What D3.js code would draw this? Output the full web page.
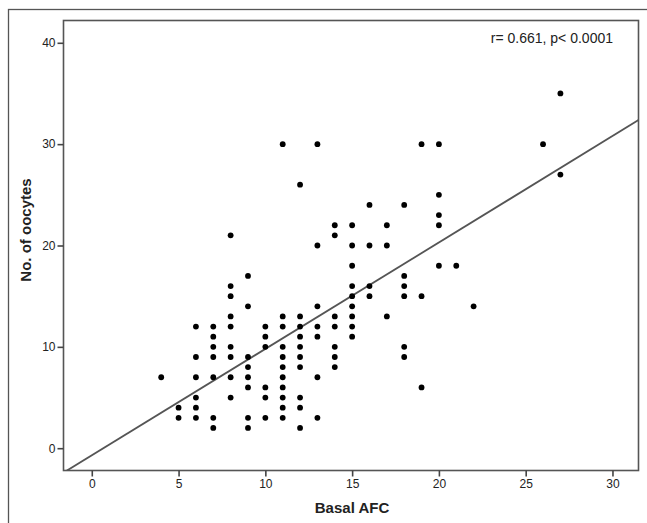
<!DOCTYPE html>
<html>
<head>
<meta charset="utf-8">
<script src="https://cdn.jsdelivr.net/npm/d3@7"></script>
<style>
  html, body { margin: 0; padding: 0; background: #fff; }
  svg { display: block; }
  text { font-family: Arial, "Liberation Sans", sans-serif; fill: #222; }
</style>
</head>
<body>
<svg id="chart" width="647" height="523"></svg>
<script>
// Data: Basal AFC (x) vs No. of oocytes (y)
const afc = [
  4,
  5,5,
  6,6,6,6,6,6,
  7,7,7,7,7,7,7,
  8,8,8,8,8,8,8,8,8,
  9,9,9,9,9,9,9,9,
  10,10,10,10,10,10,
  11,11,11,11,11,11,11,11,11,11,11,
  12,12,12,12,12,12,12,12,12,12,
  13,13,13,13,13,13,13,
  14,14,14,14,14,14,14,
  15,15,15,15,15,15,15,15,15,
  16,16,16,16,
  17,17,17,
  18,18,18,18,18,18,
  19,19,19,
  20,20,20,20,20,
  21,
  22,
  26,
  27,27
];
const oocytes = [
  7,
  4,3,
  12,9,7,5,4,3,
  12,11,10,9,7,3,2,
  21,16,15,13,12,10,9,7,5,
  17,14,9,8,7,6,3,2,
  12,11,10,6,5,3,
  30,13,12,10,9,8,7,6,5,4,3,
  26,13,12,11,10,9,8,5,4,2,
  30,20,14,12,11,7,3,
  22,21,13,12,10,9,8,
  22,20,18,16,15,14,13,12,11,
  24,20,16,15,
  22,20,13,
  24,17,16,15,10,9,
  30,15,6,
  30,25,23,22,18,
  18,
  14,
  30,
  35,27
];
const xTicks = [0, 5, 10, 15, 20, 25, 30];
const yTicks = [0, 10, 20, 30, 40];
const fitSlope = 1.05;
const fitIntercept = -0.7;
const annotation = "r= 0.661, p< 0.0001";
const xTitle = "Basal AFC";
const yTitle = "No. of oocytes";

const svg = d3.select("#chart");
const pLeft = 63.5, pRight = 638.5, pTop = 20.5, pBottom = 470.5;

const x = d3.scaleLinear().domain([-1.63, 31.5]).range([pLeft, pRight]);
const y = d3.scaleLinear().domain([-2.2, 42.2]).range([pBottom, pTop]);

// outer border
svg.append("rect")
  .attr("x", 8.5).attr("y", 9.5).attr("width", 700).attr("height", 600)
  .attr("fill", "none").attr("stroke", "#555").attr("stroke-width", 1.3);

svg.append("clipPath").attr("id", "plotclip")
  .append("rect").attr("x", pLeft).attr("y", pTop)
  .attr("width", pRight - pLeft).attr("height", pBottom - pTop);

// frame
svg.append("rect")
  .attr("x", pLeft).attr("y", pTop).attr("width", pRight - pLeft).attr("height", pBottom - pTop)
  .attr("fill", "none").attr("stroke", "#555").attr("stroke-width", 1.6);

// axes
const xAxis = d3.axisBottom(x).tickValues(xTicks).tickSize(6).tickPadding(3).tickSizeOuter(0);
const gx = svg.append("g").attr("transform", `translate(0,${pBottom})`).call(xAxis);
gx.select(".domain").remove();
gx.selectAll(".tick line").attr("stroke", "#444").attr("stroke-width", 1.6);
gx.selectAll(".tick text").attr("font-size", "12px").attr("fill", "#333")
  .style("font-family", "Arial, 'Liberation Sans', sans-serif");

const yAxis = d3.axisLeft(y).tickValues(yTicks).tickSize(6).tickPadding(2).tickSizeOuter(0);
const gy = svg.append("g").attr("transform", `translate(${pLeft},0)`).call(yAxis);
gy.select(".domain").remove();
gy.selectAll(".tick line").attr("stroke", "#444").attr("stroke-width", 1.6);
gy.selectAll(".tick text").attr("font-size", "12px").attr("fill", "#333")
  .style("font-family", "Arial, 'Liberation Sans', sans-serif");

// regression line
const xd = x.domain();
svg.append("line")
  .attr("clip-path", "url(#plotclip)")
  .attr("x1", x(xd[0])).attr("y1", y(fitIntercept + fitSlope * xd[0]))
  .attr("x2", x(xd[1])).attr("y2", y(fitIntercept + fitSlope * xd[1]))
  .attr("stroke", "#555").attr("stroke-width", 1.8);

// points
svg.append("g").selectAll("circle")
  .data(afc.map((v, i) => [v, oocytes[i]]))
  .join("circle")
  .attr("cx", d => x(d[0])).attr("cy", d => y(d[1]))
  .attr("r", 2.9).attr("fill", "#000");

// annotation
svg.append("text")
  .attr("x", 613).attr("y", 43)
  .attr("text-anchor", "end")
  .attr("font-size", "14px")
  .text(annotation);

// axis titles
svg.append("text")
  .attr("x", 352).attr("y", 513)
  .attr("text-anchor", "middle")
  .attr("font-size", "15px").attr("font-weight", "bold")
  .text(xTitle);

svg.append("text")
  .attr("transform", `translate(31,230) rotate(-90)`)
  .attr("text-anchor", "middle")
  .attr("font-size", "15px").attr("font-weight", "bold")
  .text(yTitle);
</script>
</body>
</html>
